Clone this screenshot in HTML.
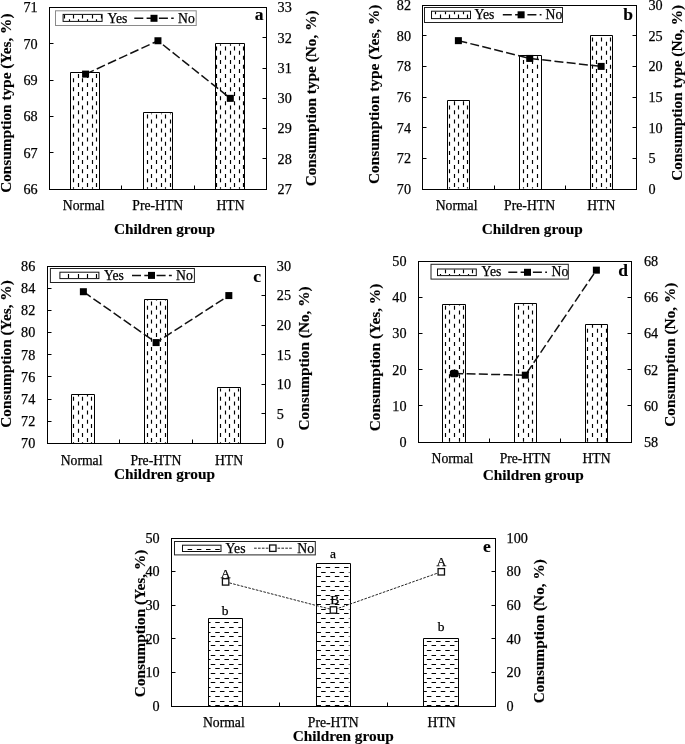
<!DOCTYPE html>
<html><head><meta charset="utf-8"><title>Consumption charts</title>
<style>html,body{margin:0;padding:0;background:#fff;}body{width:685px;height:744px;overflow:hidden;}svg{display:block;will-change:transform;}text{font-family:"Liberation Serif",serif;stroke:#000;stroke-width:0.25px;}text[font-weight=bold]{stroke-width:0.15px;}</style>
</head><body><svg width="685" height="744" viewBox="0 0 685 744" font-family='"Liberation Serif", serif' fill="#000"><defs><pattern id="pv" patternUnits="userSpaceOnUse" width="9.2" height="9.2"><line x1="1.2" y1="0.3" x2="1.2" y2="4.3" stroke="#111" stroke-width="1.1"/><line x1="5.8" y1="4.9" x2="5.8" y2="8.9" stroke="#111" stroke-width="1.1"/></pattern><pattern id="ph" patternUnits="userSpaceOnUse" width="9.2" height="9.2"><line x1="0.2" y1="1.2" x2="4.6" y2="1.2" stroke="#111" stroke-width="1.1"/><line x1="4.8" y1="5.8" x2="9.2" y2="5.8" stroke="#111" stroke-width="1.1"/></pattern></defs><g id="pa"><path d="M73.5 78.15V82.15M73.5 87.25V91.25M73.5 96.35V100.35M73.5 105.45V109.45M73.5 114.55V118.55M73.5 123.65V127.65M73.5 132.75V136.75M73.5 141.85V145.85M73.5 150.95V154.95M73.5 160.05V164.05M73.5 169.15V173.15M73.5 178.25V182.25M73.5 187.35V188.8M82.5 78.15V82.15M82.5 87.25V91.25M82.5 96.35V100.35M82.5 105.45V109.45M82.5 114.55V118.55M82.5 123.65V127.65M82.5 132.75V136.75M82.5 141.85V145.85M82.5 150.95V154.95M82.5 160.05V164.05M82.5 169.15V173.15M82.5 178.25V182.25M82.5 187.35V188.8M92.5 78.15V82.15M92.5 87.25V91.25M92.5 96.35V100.35M92.5 105.45V109.45M92.5 114.55V118.55M92.5 123.65V127.65M92.5 132.75V136.75M92.5 141.85V145.85M92.5 150.95V154.95M92.5 160.05V164.05M92.5 169.15V173.15M92.5 178.25V182.25M92.5 187.35V188.8M78.5 73.9V77.9M78.5 83V87M78.5 92.1V96.1M78.5 101.2V105.2M78.5 110.3V114.3M78.5 119.4V123.4M78.5 128.5V132.5M78.5 137.6V141.6M78.5 146.7V150.7M78.5 155.8V159.8M78.5 164.9V168.9M78.5 174V178M78.5 183.1V187.1M87.5 73.9V77.9M87.5 83V87M87.5 92.1V96.1M87.5 101.2V105.2M87.5 110.3V114.3M87.5 119.4V123.4M87.5 128.5V132.5M87.5 137.6V141.6M87.5 146.7V150.7M87.5 155.8V159.8M87.5 164.9V168.9M87.5 174V178M87.5 183.1V187.1M96.5 73.9V77.9M96.5 83V87M96.5 92.1V96.1M96.5 101.2V105.2M96.5 110.3V114.3M96.5 119.4V123.4M96.5 128.5V132.5M96.5 137.6V141.6M96.5 146.7V150.7M96.5 155.8V159.8M96.5 164.9V168.9M96.5 174V178M96.5 183.1V187.1" stroke="#000" stroke-width="1.15" fill="none"/><path d="M70.5 189.5V72.5H99.5V189.5" fill="none" stroke="#000" stroke-width="1"/><path d="M147.5 114.55V118.55M147.5 123.65V127.65M147.5 132.75V136.75M147.5 141.85V145.85M147.5 150.95V154.95M147.5 160.05V164.05M147.5 169.15V173.15M147.5 178.25V182.25M147.5 187.35V188.8M156.5 114.55V118.55M156.5 123.65V127.65M156.5 132.75V136.75M156.5 141.85V145.85M156.5 150.95V154.95M156.5 160.05V164.05M156.5 169.15V173.15M156.5 178.25V182.25M156.5 187.35V188.8M165.5 114.55V118.55M165.5 123.65V127.65M165.5 132.75V136.75M165.5 141.85V145.85M165.5 150.95V154.95M165.5 160.05V164.05M165.5 169.15V173.15M165.5 178.25V182.25M165.5 187.35V188.8M151.5 113.4V114.3M151.5 119.4V123.4M151.5 128.5V132.5M151.5 137.6V141.6M151.5 146.7V150.7M151.5 155.8V159.8M151.5 164.9V168.9M151.5 174V178M151.5 183.1V187.1M161.5 113.4V114.3M161.5 119.4V123.4M161.5 128.5V132.5M161.5 137.6V141.6M161.5 146.7V150.7M161.5 155.8V159.8M161.5 164.9V168.9M161.5 174V178M161.5 183.1V187.1M170.5 113.4V114.3M170.5 119.4V123.4M170.5 128.5V132.5M170.5 137.6V141.6M170.5 146.7V150.7M170.5 155.8V159.8M170.5 164.9V168.9M170.5 174V178M170.5 183.1V187.1" stroke="#000" stroke-width="1.15" fill="none"/><path d="M143.5 189.5V112.5H172.5V189.5" fill="none" stroke="#000" stroke-width="1"/><path d="M220.5 44.28V45.75M220.5 50.85V54.85M220.5 59.95V63.95M220.5 69.05V73.05M220.5 78.15V82.15M220.5 87.25V91.25M220.5 96.35V100.35M220.5 105.45V109.45M220.5 114.55V118.55M220.5 123.65V127.65M220.5 132.75V136.75M220.5 141.85V145.85M220.5 150.95V154.95M220.5 160.05V164.05M220.5 169.15V173.15M220.5 178.25V182.25M220.5 187.35V188.8M230.5 44.28V45.75M230.5 50.85V54.85M230.5 59.95V63.95M230.5 69.05V73.05M230.5 78.15V82.15M230.5 87.25V91.25M230.5 96.35V100.35M230.5 105.45V109.45M230.5 114.55V118.55M230.5 123.65V127.65M230.5 132.75V136.75M230.5 141.85V145.85M230.5 150.95V154.95M230.5 160.05V164.05M230.5 169.15V173.15M230.5 178.25V182.25M230.5 187.35V188.8M239.5 44.28V45.75M239.5 50.85V54.85M239.5 59.95V63.95M239.5 69.05V73.05M239.5 78.15V82.15M239.5 87.25V91.25M239.5 96.35V100.35M239.5 105.45V109.45M239.5 114.55V118.55M239.5 123.65V127.65M239.5 132.75V136.75M239.5 141.85V145.85M239.5 150.95V154.95M239.5 160.05V164.05M239.5 169.15V173.15M239.5 178.25V182.25M239.5 187.35V188.8M216.5 46.6V50.6M216.5 55.7V59.7M216.5 64.8V68.8M216.5 73.9V77.9M216.5 83V87M216.5 92.1V96.1M216.5 101.2V105.2M216.5 110.3V114.3M216.5 119.4V123.4M216.5 128.5V132.5M216.5 137.6V141.6M216.5 146.7V150.7M216.5 155.8V159.8M216.5 164.9V168.9M216.5 174V178M216.5 183.1V187.1M225.5 46.6V50.6M225.5 55.7V59.7M225.5 64.8V68.8M225.5 73.9V77.9M225.5 83V87M225.5 92.1V96.1M225.5 101.2V105.2M225.5 110.3V114.3M225.5 119.4V123.4M225.5 128.5V132.5M225.5 137.6V141.6M225.5 146.7V150.7M225.5 155.8V159.8M225.5 164.9V168.9M225.5 174V178M225.5 183.1V187.1M234.5 46.6V50.6M234.5 55.7V59.7M234.5 64.8V68.8M234.5 73.9V77.9M234.5 83V87M234.5 92.1V96.1M234.5 101.2V105.2M234.5 110.3V114.3M234.5 119.4V123.4M234.5 128.5V132.5M234.5 137.6V141.6M234.5 146.7V150.7M234.5 155.8V159.8M234.5 164.9V168.9M234.5 174V178M234.5 183.1V187.1M243.5 46.6V50.6M243.5 55.7V59.7M243.5 64.8V68.8M243.5 73.9V77.9M243.5 83V87M243.5 92.1V96.1M243.5 101.2V105.2M243.5 110.3V114.3M243.5 119.4V123.4M243.5 128.5V132.5M243.5 137.6V141.6M243.5 146.7V150.7M243.5 155.8V159.8M243.5 164.9V168.9M243.5 174V178M243.5 183.1V187.1" stroke="#000" stroke-width="1.15" fill="none"/><path d="M215.5 189.5V43.5H244.5V189.5" fill="none" stroke="#000" stroke-width="1"/><rect x="49.5" y="7.5" width="217" height="182" fill="none" stroke="#000" stroke-width="1"/><text x="37.6" y="194.1" text-anchor="end" font-size="14.2">66</text><line x1="49.5" y1="152.5" x2="53.5" y2="152.5" stroke="#000" stroke-width="1"/><text x="37.6" y="157.72" text-anchor="end" font-size="14.2">67</text><line x1="49.5" y1="116.5" x2="53.5" y2="116.5" stroke="#000" stroke-width="1"/><text x="37.6" y="121.34" text-anchor="end" font-size="14.2">68</text><line x1="49.5" y1="80.5" x2="53.5" y2="80.5" stroke="#000" stroke-width="1"/><text x="37.6" y="84.96" text-anchor="end" font-size="14.2">69</text><line x1="49.5" y1="43.5" x2="53.5" y2="43.5" stroke="#000" stroke-width="1"/><text x="37.6" y="48.58" text-anchor="end" font-size="14.2">70</text><text x="37.6" y="12.2" text-anchor="end" font-size="14.2">71</text><text x="277.6" y="194.1" text-anchor="start" font-size="14.2">27</text><line x1="262.5" y1="158.5" x2="266.5" y2="158.5" stroke="#000" stroke-width="1"/><text x="277.6" y="163.78" text-anchor="start" font-size="14.2">28</text><line x1="262.5" y1="128.5" x2="266.5" y2="128.5" stroke="#000" stroke-width="1"/><text x="277.6" y="133.47" text-anchor="start" font-size="14.2">29</text><line x1="262.5" y1="98.5" x2="266.5" y2="98.5" stroke="#000" stroke-width="1"/><text x="277.6" y="103.15" text-anchor="start" font-size="14.2">30</text><line x1="262.5" y1="68.5" x2="266.5" y2="68.5" stroke="#000" stroke-width="1"/><text x="277.6" y="72.83" text-anchor="start" font-size="14.2">31</text><line x1="262.5" y1="37.5" x2="266.5" y2="37.5" stroke="#000" stroke-width="1"/><text x="277.6" y="42.52" text-anchor="start" font-size="14.2">32</text><text x="277.6" y="12.2" text-anchor="start" font-size="14.2">33</text><line x1="121.5" y1="185.5" x2="121.5" y2="189.5" stroke="#000" stroke-width="1"/><line x1="194.5" y1="185.5" x2="194.5" y2="189.5" stroke="#000" stroke-width="1"/><text x="83.78" y="209.9" text-anchor="middle" font-size="13.7">Normal</text><text x="157.75" y="209.9" text-anchor="middle" font-size="13.7">Pre-HTN</text><text x="230.52" y="209.9" text-anchor="middle" font-size="13.7">HTN</text><polyline points="85.58,74.1 157.95,40.75 230.32,98.35" fill="none" stroke="#111" stroke-width="1.5" stroke-dasharray="9 3.3"/><rect x="82.08" y="70.6" width="7" height="7" fill="#000"/><rect x="154.45" y="37.25" width="7" height="7" fill="#000"/><rect x="226.82" y="94.85" width="7" height="7" fill="#000"/><text x="164.5" y="233.9" text-anchor="middle" font-size="15.3" font-weight="bold">Children group</text><text transform="translate(10.8,103.2) rotate(-90)" text-anchor="middle" font-size="15.3" font-weight="bold">Consumption type (Yes, %)</text><text transform="translate(316.2,98.4) rotate(-90)" text-anchor="middle" font-size="15.3" font-weight="bold">Consumption type (No, %)</text><text x="259.1" y="19.9" text-anchor="middle" font-size="17.5" font-weight="bold">a</text><rect x="55.5" y="10.8" width="140.7" height="14.7" fill="#fff" stroke="#8a8a8a" stroke-width="1"/><path d="M64.5 14.9V18.45M73.5 14.9V18.45M82.5 14.9V18.45M92.5 14.9V18.45M101.5 14.9V18.45M69.5 19.3V20.9M78.5 19.3V20.9M87.5 19.3V20.9M96.5 19.3V20.9" stroke="#000" stroke-width="1.15" fill="none"/><rect x="63.1" y="14.4" width="39" height="7" fill="none" stroke="#111" stroke-width="1"/><text x="107.4" y="22.8" font-size="13.7">Yes</text><text x="178.1" y="22.8" font-size="13.7">No</text><line x1="134.3" y1="18.3" x2="173.7" y2="18.3" stroke="#111" stroke-width="1.5" stroke-dasharray="9 3.3"/><rect x="150.5" y="14.8" width="7" height="7" fill="#000"/></g><g id="pb"><path d="M449.5 105.45V109.45M449.5 114.55V118.55M449.5 123.65V127.65M449.5 132.75V136.75M449.5 141.85V145.85M449.5 150.95V154.95M449.5 160.05V164.05M449.5 169.15V173.15M449.5 178.25V182.25M449.5 187.35V188.5M458.5 105.45V109.45M458.5 114.55V118.55M458.5 123.65V127.65M458.5 132.75V136.75M458.5 141.85V145.85M458.5 150.95V154.95M458.5 160.05V164.05M458.5 169.15V173.15M458.5 178.25V182.25M458.5 187.35V188.5M467.5 105.45V109.45M467.5 114.55V118.55M467.5 123.65V127.65M467.5 132.75V136.75M467.5 141.85V145.85M467.5 150.95V154.95M467.5 160.05V164.05M467.5 169.15V173.15M467.5 178.25V182.25M467.5 187.35V188.5M454.5 101.2V105.2M454.5 110.3V114.3M454.5 119.4V123.4M454.5 128.5V132.5M454.5 137.6V141.6M454.5 146.7V150.7M454.5 155.8V159.8M454.5 164.9V168.9M454.5 174V178M454.5 183.1V187.1M463.5 101.2V105.2M463.5 110.3V114.3M463.5 119.4V123.4M463.5 128.5V132.5M463.5 137.6V141.6M463.5 146.7V150.7M463.5 155.8V159.8M463.5 164.9V168.9M463.5 174V178M463.5 183.1V187.1" stroke="#000" stroke-width="1.15" fill="none"/><path d="M447.5 189.5V100.5H469.5V189.5" fill="none" stroke="#000" stroke-width="1"/><path d="M523.5 59.95V63.95M523.5 69.05V73.05M523.5 78.15V82.15M523.5 87.25V91.25M523.5 96.35V100.35M523.5 105.45V109.45M523.5 114.55V118.55M523.5 123.65V127.65M523.5 132.75V136.75M523.5 141.85V145.85M523.5 150.95V154.95M523.5 160.05V164.05M523.5 169.15V173.15M523.5 178.25V182.25M523.5 187.35V188.5M532.5 59.95V63.95M532.5 69.05V73.05M532.5 78.15V82.15M532.5 87.25V91.25M532.5 96.35V100.35M532.5 105.45V109.45M532.5 114.55V118.55M532.5 123.65V127.65M532.5 132.75V136.75M532.5 141.85V145.85M532.5 150.95V154.95M532.5 160.05V164.05M532.5 169.15V173.15M532.5 178.25V182.25M532.5 187.35V188.5M527.5 56.17V59.7M527.5 64.8V68.8M527.5 73.9V77.9M527.5 83V87M527.5 92.1V96.1M527.5 101.2V105.2M527.5 110.3V114.3M527.5 119.4V123.4M527.5 128.5V132.5M527.5 137.6V141.6M527.5 146.7V150.7M527.5 155.8V159.8M527.5 164.9V168.9M527.5 174V178M527.5 183.1V187.1M537.5 56.17V59.7M537.5 64.8V68.8M537.5 73.9V77.9M537.5 83V87M537.5 92.1V96.1M537.5 101.2V105.2M537.5 110.3V114.3M537.5 119.4V123.4M537.5 128.5V132.5M537.5 137.6V141.6M537.5 146.7V150.7M537.5 155.8V159.8M537.5 164.9V168.9M537.5 174V178M537.5 183.1V187.1" stroke="#000" stroke-width="1.15" fill="none"/><path d="M519.5 189.5V55.5H541.5V189.5" fill="none" stroke="#000" stroke-width="1"/><path d="M596.5 41.75V45.75M596.5 50.85V54.85M596.5 59.95V63.95M596.5 69.05V73.05M596.5 78.15V82.15M596.5 87.25V91.25M596.5 96.35V100.35M596.5 105.45V109.45M596.5 114.55V118.55M596.5 123.65V127.65M596.5 132.75V136.75M596.5 141.85V145.85M596.5 150.95V154.95M596.5 160.05V164.05M596.5 169.15V173.15M596.5 178.25V182.25M596.5 187.35V188.5M606.5 41.75V45.75M606.5 50.85V54.85M606.5 59.95V63.95M606.5 69.05V73.05M606.5 78.15V82.15M606.5 87.25V91.25M606.5 96.35V100.35M606.5 105.45V109.45M606.5 114.55V118.55M606.5 123.65V127.65M606.5 132.75V136.75M606.5 141.85V145.85M606.5 150.95V154.95M606.5 160.05V164.05M606.5 169.15V173.15M606.5 178.25V182.25M606.5 187.35V188.5M592.5 37.5V41.5M592.5 46.6V50.6M592.5 55.7V59.7M592.5 64.8V68.8M592.5 73.9V77.9M592.5 83V87M592.5 92.1V96.1M592.5 101.2V105.2M592.5 110.3V114.3M592.5 119.4V123.4M592.5 128.5V132.5M592.5 137.6V141.6M592.5 146.7V150.7M592.5 155.8V159.8M592.5 164.9V168.9M592.5 174V178M592.5 183.1V187.1M601.5 37.5V41.5M601.5 46.6V50.6M601.5 55.7V59.7M601.5 64.8V68.8M601.5 73.9V77.9M601.5 83V87M601.5 92.1V96.1M601.5 101.2V105.2M601.5 110.3V114.3M601.5 119.4V123.4M601.5 128.5V132.5M601.5 137.6V141.6M601.5 146.7V150.7M601.5 155.8V159.8M601.5 164.9V168.9M601.5 174V178M601.5 183.1V187.1M610.5 37.5V41.5M610.5 46.6V50.6M610.5 55.7V59.7M610.5 64.8V68.8M610.5 73.9V77.9M610.5 83V87M610.5 92.1V96.1M610.5 101.2V105.2M610.5 110.3V114.3M610.5 119.4V123.4M610.5 128.5V132.5M610.5 137.6V141.6M610.5 146.7V150.7M610.5 155.8V159.8M610.5 164.9V168.9M610.5 174V178M610.5 183.1V187.1" stroke="#000" stroke-width="1.15" fill="none"/><path d="M590.5 189.5V35.5H612.5V189.5" fill="none" stroke="#000" stroke-width="1"/><rect x="422.5" y="5.5" width="214" height="184" fill="none" stroke="#000" stroke-width="1"/><text x="411" y="193.8" text-anchor="end" font-size="14.2">70</text><line x1="422.5" y1="158.5" x2="426.5" y2="158.5" stroke="#000" stroke-width="1"/><text x="411" y="163.15" text-anchor="end" font-size="14.2">72</text><line x1="422.5" y1="127.5" x2="426.5" y2="127.5" stroke="#000" stroke-width="1"/><text x="411" y="132.5" text-anchor="end" font-size="14.2">74</text><line x1="422.5" y1="97.5" x2="426.5" y2="97.5" stroke="#000" stroke-width="1"/><text x="411" y="101.85" text-anchor="end" font-size="14.2">76</text><line x1="422.5" y1="66.5" x2="426.5" y2="66.5" stroke="#000" stroke-width="1"/><text x="411" y="71.2" text-anchor="end" font-size="14.2">78</text><line x1="422.5" y1="35.5" x2="426.5" y2="35.5" stroke="#000" stroke-width="1"/><text x="411" y="40.55" text-anchor="end" font-size="14.2">80</text><text x="411" y="9.9" text-anchor="end" font-size="14.2">82</text><text x="648.4" y="193.8" text-anchor="start" font-size="14.2">0</text><line x1="632.5" y1="158.5" x2="636.5" y2="158.5" stroke="#000" stroke-width="1"/><text x="648.4" y="163.15" text-anchor="start" font-size="14.2">5</text><line x1="632.5" y1="127.5" x2="636.5" y2="127.5" stroke="#000" stroke-width="1"/><text x="648.4" y="132.5" text-anchor="start" font-size="14.2">10</text><line x1="632.5" y1="97.5" x2="636.5" y2="97.5" stroke="#000" stroke-width="1"/><text x="648.4" y="101.85" text-anchor="start" font-size="14.2">15</text><line x1="632.5" y1="66.5" x2="636.5" y2="66.5" stroke="#000" stroke-width="1"/><text x="648.4" y="71.2" text-anchor="start" font-size="14.2">20</text><line x1="632.5" y1="35.5" x2="636.5" y2="35.5" stroke="#000" stroke-width="1"/><text x="648.4" y="40.55" text-anchor="start" font-size="14.2">25</text><text x="648.4" y="9.9" text-anchor="start" font-size="14.2">30</text><line x1="494.5" y1="185.5" x2="494.5" y2="189.5" stroke="#000" stroke-width="1"/><line x1="565.5" y1="185.5" x2="565.5" y2="189.5" stroke="#000" stroke-width="1"/><text x="456.58" y="210" text-anchor="middle" font-size="13.7">Normal</text><text x="529.55" y="210" text-anchor="middle" font-size="13.7">Pre-HTN</text><text x="601.32" y="210" text-anchor="middle" font-size="13.7">HTN</text><polyline points="458.38,40.65 529.75,58.43 601.12,66.4" fill="none" stroke="#111" stroke-width="1.5" stroke-dasharray="9 3.3"/><rect x="454.88" y="37.15" width="7" height="7" fill="#000"/><rect x="526.25" y="54.93" width="7" height="7" fill="#000"/><rect x="597.62" y="62.9" width="7" height="7" fill="#000"/><text x="532.2" y="233.7" text-anchor="middle" font-size="15.3" font-weight="bold">Children group</text><text transform="translate(378.6,94.3) rotate(-90)" text-anchor="middle" font-size="15.3" font-weight="bold">Consumption type (Yes, %)</text><text transform="translate(682,92.8) rotate(-90)" text-anchor="middle" font-size="15.3" font-weight="bold">Consumption type (No, %)</text><text x="628.2" y="19.7" text-anchor="middle" font-size="17.5" font-weight="bold">b</text><rect x="424.5" y="7.5" width="138" height="15" fill="#fff" stroke="#222" stroke-width="1"/><path d="M440.5 14.45V18.1M449.5 14.45V18.1M458.5 14.45V18.1M467.5 14.45V18.1M435.5 11.7V14.2M445.5 11.7V14.2M454.5 11.7V14.2M463.5 11.7V14.2" stroke="#000" stroke-width="1.15" fill="none"/><rect x="431.5" y="11.2" width="39" height="7.4" fill="none" stroke="#111" stroke-width="1"/><text x="474.4" y="19.2" font-size="13.7">Yes</text><text x="545.6" y="19.2" font-size="13.7">No</text><line x1="502.8" y1="14.8" x2="541.5" y2="14.8" stroke="#111" stroke-width="1.5" stroke-dasharray="9 3.3"/><rect x="517.6" y="11.3" width="7" height="7" fill="#000"/></g><g id="pc"><path d="M73.5 396.65V400.65M73.5 405.75V409.75M73.5 414.85V418.85M73.5 423.95V427.95M73.5 433.05V437.05M73.5 442.15V442.9M82.5 396.65V400.65M82.5 405.75V409.75M82.5 414.85V418.85M82.5 423.95V427.95M82.5 433.05V437.05M82.5 442.15V442.9M91.5 396.65V400.65M91.5 405.75V409.75M91.5 414.85V418.85M91.5 423.95V427.95M91.5 433.05V437.05M91.5 442.15V442.9M78.5 395.11V396.4M78.5 401.5V405.5M78.5 410.6V414.6M78.5 419.7V423.7M78.5 428.8V432.8M78.5 437.9V441.9M87.5 395.11V396.4M87.5 401.5V405.5M87.5 410.6V414.6M87.5 419.7V423.7M87.5 428.8V432.8M87.5 437.9V441.9" stroke="#000" stroke-width="1.15" fill="none"/><path d="M71.5 443.5V394.5H94.5V443.5" fill="none" stroke="#000" stroke-width="1"/><path d="M147.5 299.76V300.55M147.5 305.65V309.65M147.5 314.75V318.75M147.5 323.85V327.85M147.5 332.95V336.95M147.5 342.05V346.05M147.5 351.15V355.15M147.5 360.25V364.25M147.5 369.35V373.35M147.5 378.45V382.45M147.5 387.55V391.55M147.5 396.65V400.65M147.5 405.75V409.75M147.5 414.85V418.85M147.5 423.95V427.95M147.5 433.05V437.05M147.5 442.15V442.9M156.5 299.76V300.55M156.5 305.65V309.65M156.5 314.75V318.75M156.5 323.85V327.85M156.5 332.95V336.95M156.5 342.05V346.05M156.5 351.15V355.15M156.5 360.25V364.25M156.5 369.35V373.35M156.5 378.45V382.45M156.5 387.55V391.55M156.5 396.65V400.65M156.5 405.75V409.75M156.5 414.85V418.85M156.5 423.95V427.95M156.5 433.05V437.05M156.5 442.15V442.9M165.5 299.76V300.55M165.5 305.65V309.65M165.5 314.75V318.75M165.5 323.85V327.85M165.5 332.95V336.95M165.5 342.05V346.05M165.5 351.15V355.15M165.5 360.25V364.25M165.5 369.35V373.35M165.5 378.45V382.45M165.5 387.55V391.55M165.5 396.65V400.65M165.5 405.75V409.75M165.5 414.85V418.85M165.5 423.95V427.95M165.5 433.05V437.05M165.5 442.15V442.9M151.5 301.4V305.4M151.5 310.5V314.5M151.5 319.6V323.6M151.5 328.7V332.7M151.5 337.8V341.8M151.5 346.9V350.9M151.5 356V360M151.5 365.1V369.1M151.5 374.2V378.2M151.5 383.3V387.3M151.5 392.4V396.4M151.5 401.5V405.5M151.5 410.6V414.6M151.5 419.7V423.7M151.5 428.8V432.8M151.5 437.9V441.9M160.5 301.4V305.4M160.5 310.5V314.5M160.5 319.6V323.6M160.5 328.7V332.7M160.5 337.8V341.8M160.5 346.9V350.9M160.5 356V360M160.5 365.1V369.1M160.5 374.2V378.2M160.5 383.3V387.3M160.5 392.4V396.4M160.5 401.5V405.5M160.5 410.6V414.6M160.5 419.7V423.7M160.5 428.8V432.8M160.5 437.9V441.9" stroke="#000" stroke-width="1.15" fill="none"/><path d="M144.5 443.5V299.5H167.5V443.5" fill="none" stroke="#000" stroke-width="1"/><path d="M220.5 388.46V391.55M220.5 396.65V400.65M220.5 405.75V409.75M220.5 414.85V418.85M220.5 423.95V427.95M220.5 433.05V437.05M220.5 442.15V442.9M229.5 388.46V391.55M229.5 396.65V400.65M229.5 405.75V409.75M229.5 414.85V418.85M229.5 423.95V427.95M229.5 433.05V437.05M229.5 442.15V442.9M238.5 388.46V391.55M238.5 396.65V400.65M238.5 405.75V409.75M238.5 414.85V418.85M238.5 423.95V427.95M238.5 433.05V437.05M238.5 442.15V442.9M225.5 392.4V396.4M225.5 401.5V405.5M225.5 410.6V414.6M225.5 419.7V423.7M225.5 428.8V432.8M225.5 437.9V441.9M234.5 392.4V396.4M234.5 401.5V405.5M234.5 410.6V414.6M234.5 419.7V423.7M234.5 428.8V432.8M234.5 437.9V441.9" stroke="#000" stroke-width="1.15" fill="none"/><path d="M217.5 443.5V387.5H240.5V443.5" fill="none" stroke="#000" stroke-width="1"/><rect x="47.5" y="266.5" width="218" height="177" fill="none" stroke="#000" stroke-width="1"/><text x="35.3" y="448.2" text-anchor="end" font-size="14.2">70</text><line x1="47.5" y1="421.5" x2="51.5" y2="421.5" stroke="#000" stroke-width="1"/><text x="35.3" y="426.02" text-anchor="end" font-size="14.2">72</text><line x1="47.5" y1="399.5" x2="51.5" y2="399.5" stroke="#000" stroke-width="1"/><text x="35.3" y="403.85" text-anchor="end" font-size="14.2">74</text><line x1="47.5" y1="376.5" x2="51.5" y2="376.5" stroke="#000" stroke-width="1"/><text x="35.3" y="381.68" text-anchor="end" font-size="14.2">76</text><line x1="47.5" y1="354.5" x2="51.5" y2="354.5" stroke="#000" stroke-width="1"/><text x="35.3" y="359.5" text-anchor="end" font-size="14.2">78</text><line x1="47.5" y1="332.5" x2="51.5" y2="332.5" stroke="#000" stroke-width="1"/><text x="35.3" y="337.32" text-anchor="end" font-size="14.2">80</text><line x1="47.5" y1="310.5" x2="51.5" y2="310.5" stroke="#000" stroke-width="1"/><text x="35.3" y="315.15" text-anchor="end" font-size="14.2">82</text><line x1="47.5" y1="288.5" x2="51.5" y2="288.5" stroke="#000" stroke-width="1"/><text x="35.3" y="292.98" text-anchor="end" font-size="14.2">84</text><text x="35.3" y="270.8" text-anchor="end" font-size="14.2">86</text><text x="276.8" y="448.2" text-anchor="start" font-size="14.2">0</text><line x1="261.5" y1="413.5" x2="265.5" y2="413.5" stroke="#000" stroke-width="1"/><text x="276.8" y="418.63" text-anchor="start" font-size="14.2">5</text><line x1="261.5" y1="384.5" x2="265.5" y2="384.5" stroke="#000" stroke-width="1"/><text x="276.8" y="389.07" text-anchor="start" font-size="14.2">10</text><line x1="261.5" y1="354.5" x2="265.5" y2="354.5" stroke="#000" stroke-width="1"/><text x="276.8" y="359.5" text-anchor="start" font-size="14.2">15</text><line x1="261.5" y1="325.5" x2="265.5" y2="325.5" stroke="#000" stroke-width="1"/><text x="276.8" y="329.93" text-anchor="start" font-size="14.2">20</text><line x1="261.5" y1="295.5" x2="265.5" y2="295.5" stroke="#000" stroke-width="1"/><text x="276.8" y="300.37" text-anchor="start" font-size="14.2">25</text><text x="276.8" y="270.8" text-anchor="start" font-size="14.2">30</text><line x1="119.5" y1="439.5" x2="119.5" y2="443.5" stroke="#000" stroke-width="1"/><line x1="192.5" y1="439.5" x2="192.5" y2="443.5" stroke="#000" stroke-width="1"/><text x="81.57" y="464.7" text-anchor="middle" font-size="13.7">Normal</text><text x="155.9" y="464.7" text-anchor="middle" font-size="13.7">Pre-HTN</text><text x="229.03" y="464.7" text-anchor="middle" font-size="13.7">HTN</text><polyline points="83.37,291.72 156.1,342.58 228.83,295.57" fill="none" stroke="#111" stroke-width="1.5" stroke-dasharray="9 3.3"/><rect x="79.87" y="288.22" width="7" height="7" fill="#000"/><rect x="152.6" y="339.08" width="7" height="7" fill="#000"/><rect x="225.33" y="292.07" width="7" height="7" fill="#000"/><text x="164.5" y="479.3" text-anchor="middle" font-size="15.3" font-weight="bold">Children group</text><text transform="translate(11,354) rotate(-90)" text-anchor="middle" font-size="15.3" font-weight="bold">Consumption (Yes, %)</text><text transform="translate(309.3,358.4) rotate(-90)" text-anchor="middle" font-size="15.3" font-weight="bold">Consumption (No, %)</text><text x="257.2" y="282.1" text-anchor="middle" font-size="17.5" font-weight="bold">c</text><rect x="50.4" y="268.5" width="144" height="14" fill="#fff" stroke="#222" stroke-width="1"/><path d="M68.5 274.1V278.1M78.5 274.1V278.1M87.5 274.1V278.1M96.5 274.1V278.1" stroke="#000" stroke-width="1.15" fill="none"/><rect x="59.9" y="272.2" width="39" height="6.4" fill="none" stroke="#111" stroke-width="1"/><text x="104" y="279.7" font-size="13.7">Yes</text><text x="176" y="279.7" font-size="13.7">No</text><line x1="132" y1="275.4" x2="171.8" y2="275.4" stroke="#111" stroke-width="1.5" stroke-dasharray="9 3.3"/><rect x="148" y="271.9" width="7" height="7" fill="#000"/></g><g id="pd"><path d="M445.5 305.65V309.65M445.5 314.75V318.75M445.5 323.85V327.85M445.5 332.95V336.95M445.5 342.05V346.05M445.5 351.15V355.15M445.5 360.25V364.25M445.5 369.35V373.35M445.5 378.45V382.45M445.5 387.55V391.55M445.5 396.65V400.65M445.5 405.75V409.75M445.5 414.85V418.85M445.5 423.95V427.95M445.5 433.05V437.05M454.5 305.65V309.65M454.5 314.75V318.75M454.5 323.85V327.85M454.5 332.95V336.95M454.5 342.05V346.05M454.5 351.15V355.15M454.5 360.25V364.25M454.5 369.35V373.35M454.5 378.45V382.45M454.5 387.55V391.55M454.5 396.65V400.65M454.5 405.75V409.75M454.5 414.85V418.85M454.5 423.95V427.95M454.5 433.05V437.05M463.5 305.65V309.65M463.5 314.75V318.75M463.5 323.85V327.85M463.5 332.95V336.95M463.5 342.05V346.05M463.5 351.15V355.15M463.5 360.25V364.25M463.5 369.35V373.35M463.5 378.45V382.45M463.5 387.55V391.55M463.5 396.65V400.65M463.5 405.75V409.75M463.5 414.85V418.85M463.5 423.95V427.95M463.5 433.05V437.05M449.5 304.7V305.4M449.5 310.5V314.5M449.5 319.6V323.6M449.5 328.7V332.7M449.5 337.8V341.8M449.5 346.9V350.9M449.5 356V360M449.5 365.1V369.1M449.5 374.2V378.2M449.5 383.3V387.3M449.5 392.4V396.4M449.5 401.5V405.5M449.5 410.6V414.6M449.5 419.7V423.7M449.5 428.8V432.8M449.5 437.9V441.7M459.5 304.7V305.4M459.5 310.5V314.5M459.5 319.6V323.6M459.5 328.7V332.7M459.5 337.8V341.8M459.5 346.9V350.9M459.5 356V360M459.5 365.1V369.1M459.5 374.2V378.2M459.5 383.3V387.3M459.5 392.4V396.4M459.5 401.5V405.5M459.5 410.6V414.6M459.5 419.7V423.7M459.5 428.8V432.8M459.5 437.9V441.7" stroke="#000" stroke-width="1.15" fill="none"/><path d="M442.5 442.5V304.5H465.5V442.5" fill="none" stroke="#000" stroke-width="1"/><path d="M518.5 305.65V309.65M518.5 314.75V318.75M518.5 323.85V327.85M518.5 332.95V336.95M518.5 342.05V346.05M518.5 351.15V355.15M518.5 360.25V364.25M518.5 369.35V373.35M518.5 378.45V382.45M518.5 387.55V391.55M518.5 396.65V400.65M518.5 405.75V409.75M518.5 414.85V418.85M518.5 423.95V427.95M518.5 433.05V437.05M528.5 305.65V309.65M528.5 314.75V318.75M528.5 323.85V327.85M528.5 332.95V336.95M528.5 342.05V346.05M528.5 351.15V355.15M528.5 360.25V364.25M528.5 369.35V373.35M528.5 378.45V382.45M528.5 387.55V391.55M528.5 396.65V400.65M528.5 405.75V409.75M528.5 414.85V418.85M528.5 423.95V427.95M528.5 433.05V437.05M523.5 304.34V305.4M523.5 310.5V314.5M523.5 319.6V323.6M523.5 328.7V332.7M523.5 337.8V341.8M523.5 346.9V350.9M523.5 356V360M523.5 365.1V369.1M523.5 374.2V378.2M523.5 383.3V387.3M523.5 392.4V396.4M523.5 401.5V405.5M523.5 410.6V414.6M523.5 419.7V423.7M523.5 428.8V432.8M523.5 437.9V441.7M532.5 304.34V305.4M532.5 310.5V314.5M532.5 319.6V323.6M532.5 328.7V332.7M532.5 337.8V341.8M532.5 346.9V350.9M532.5 356V360M532.5 365.1V369.1M532.5 374.2V378.2M532.5 383.3V387.3M532.5 392.4V396.4M532.5 401.5V405.5M532.5 410.6V414.6M532.5 419.7V423.7M532.5 428.8V432.8M532.5 437.9V441.7" stroke="#000" stroke-width="1.15" fill="none"/><path d="M514.5 442.5V303.5H536.5V442.5" fill="none" stroke="#000" stroke-width="1"/><path d="M592.5 324.99V327.85M592.5 332.95V336.95M592.5 342.05V346.05M592.5 351.15V355.15M592.5 360.25V364.25M592.5 369.35V373.35M592.5 378.45V382.45M592.5 387.55V391.55M592.5 396.65V400.65M592.5 405.75V409.75M592.5 414.85V418.85M592.5 423.95V427.95M592.5 433.05V437.05M601.5 324.99V327.85M601.5 332.95V336.95M601.5 342.05V346.05M601.5 351.15V355.15M601.5 360.25V364.25M601.5 369.35V373.35M601.5 378.45V382.45M601.5 387.55V391.55M601.5 396.65V400.65M601.5 405.75V409.75M601.5 414.85V418.85M601.5 423.95V427.95M601.5 433.05V437.05M587.5 328.7V332.7M587.5 337.8V341.8M587.5 346.9V350.9M587.5 356V360M587.5 365.1V369.1M587.5 374.2V378.2M587.5 383.3V387.3M587.5 392.4V396.4M587.5 401.5V405.5M587.5 410.6V414.6M587.5 419.7V423.7M587.5 428.8V432.8M587.5 437.9V441.7M597.5 328.7V332.7M597.5 337.8V341.8M597.5 346.9V350.9M597.5 356V360M597.5 365.1V369.1M597.5 374.2V378.2M597.5 383.3V387.3M597.5 392.4V396.4M597.5 401.5V405.5M597.5 410.6V414.6M597.5 419.7V423.7M597.5 428.8V432.8M597.5 437.9V441.7M606.5 328.7V332.7M606.5 337.8V341.8M606.5 346.9V350.9M606.5 356V360M606.5 365.1V369.1M606.5 374.2V378.2M606.5 383.3V387.3M606.5 392.4V396.4M606.5 401.5V405.5M606.5 410.6V414.6M606.5 419.7V423.7M606.5 428.8V432.8M606.5 437.9V441.7" stroke="#000" stroke-width="1.15" fill="none"/><path d="M585.5 442.5V324.5H607.5V442.5" fill="none" stroke="#000" stroke-width="1"/><rect x="418.5" y="261.5" width="213" height="181" fill="none" stroke="#000" stroke-width="1"/><text x="406.5" y="447" text-anchor="end" font-size="14.2">0</text><line x1="418.5" y1="405.5" x2="422.5" y2="405.5" stroke="#000" stroke-width="1"/><text x="406.5" y="410.78" text-anchor="end" font-size="14.2">10</text><line x1="418.5" y1="369.5" x2="422.5" y2="369.5" stroke="#000" stroke-width="1"/><text x="406.5" y="374.56" text-anchor="end" font-size="14.2">20</text><line x1="418.5" y1="333.5" x2="422.5" y2="333.5" stroke="#000" stroke-width="1"/><text x="406.5" y="338.34" text-anchor="end" font-size="14.2">30</text><line x1="418.5" y1="297.5" x2="422.5" y2="297.5" stroke="#000" stroke-width="1"/><text x="406.5" y="302.12" text-anchor="end" font-size="14.2">40</text><text x="406.5" y="265.9" text-anchor="end" font-size="14.2">50</text><text x="644" y="447" text-anchor="start" font-size="14.2">58</text><line x1="627.5" y1="405.5" x2="631.5" y2="405.5" stroke="#000" stroke-width="1"/><text x="644" y="410.78" text-anchor="start" font-size="14.2">60</text><line x1="627.5" y1="369.5" x2="631.5" y2="369.5" stroke="#000" stroke-width="1"/><text x="644" y="374.56" text-anchor="start" font-size="14.2">62</text><line x1="627.5" y1="333.5" x2="631.5" y2="333.5" stroke="#000" stroke-width="1"/><text x="644" y="338.34" text-anchor="start" font-size="14.2">64</text><line x1="627.5" y1="297.5" x2="631.5" y2="297.5" stroke="#000" stroke-width="1"/><text x="644" y="302.12" text-anchor="start" font-size="14.2">66</text><text x="644" y="265.9" text-anchor="start" font-size="14.2">68</text><line x1="489.5" y1="438.5" x2="489.5" y2="442.5" stroke="#000" stroke-width="1"/><line x1="560.5" y1="438.5" x2="560.5" y2="442.5" stroke="#000" stroke-width="1"/><text x="452.43" y="463.2" text-anchor="middle" font-size="13.7">Normal</text><text x="525.1" y="463.2" text-anchor="middle" font-size="13.7">Pre-HTN</text><text x="596.57" y="463.2" text-anchor="middle" font-size="13.7">HTN</text><polyline points="454.23,373.56 525.3,375.19 596.37,270.16" fill="none" stroke="#111" stroke-width="1.5" stroke-dasharray="9 3.3"/><rect x="449.83" y="369.86" width="8.8" height="7.4" rx="2.6" fill="#000"/><rect x="521.8" y="371.69" width="7" height="7" fill="#000"/><rect x="592.87" y="266.66" width="7" height="7" fill="#000"/><text x="533.2" y="480.3" text-anchor="middle" font-size="15.3" font-weight="bold">Children group</text><text transform="translate(380,357.5) rotate(-90)" text-anchor="middle" font-size="15.3" font-weight="bold">Consumption (Yes, %)</text><text transform="translate(674.7,354.7) rotate(-90)" text-anchor="middle" font-size="15.3" font-weight="bold">Consumption (No, %)</text><text x="623" y="276.3" text-anchor="middle" font-size="17.5" font-weight="bold">d</text><rect x="431" y="264.3" width="137.3" height="14.8" fill="#fff" stroke="#222" stroke-width="1"/><path d="M445.5 269.5V273.25M454.5 269.5V273.25M463.5 269.5V273.25M472.5 269.5V273.25M440.5 274.1V275.1M449.5 274.1V275.1M459.5 274.1V275.1M468.5 274.1V275.1" stroke="#000" stroke-width="1.15" fill="none"/><rect x="437.5" y="269" width="38.8" height="6.6" fill="none" stroke="#111" stroke-width="1"/><text x="481.4" y="276.3" font-size="13.7">Yes</text><text x="551.5" y="276.3" font-size="13.7">No</text><line x1="508.3" y1="272.3" x2="547" y2="272.3" stroke="#111" stroke-width="1.5" stroke-dasharray="9 3.3"/><rect x="524" y="268.8" width="7" height="7" fill="#000"/></g><g id="pe"><path d="M208.9 622.5H210.55M215.25 622.5H219.75M224.45 622.5H228.95M233.65 622.5H238.15M208.9 632.5H210.55M215.25 632.5H219.75M224.45 632.5H228.95M233.65 632.5H238.15M208.9 641.5H210.55M215.25 641.5H219.75M224.45 641.5H228.95M233.65 641.5H238.15M208.9 650.5H210.55M215.25 650.5H219.75M224.45 650.5H228.95M233.65 650.5H238.15M208.9 659.5H210.55M215.25 659.5H219.75M224.45 659.5H228.95M233.65 659.5H238.15M208.9 668.5H210.55M215.25 668.5H219.75M224.45 668.5H228.95M233.65 668.5H238.15M208.9 678.5H210.55M215.25 678.5H219.75M224.45 678.5H228.95M233.65 678.5H238.15M208.9 687.5H210.55M215.25 687.5H219.75M224.45 687.5H228.95M233.65 687.5H238.15M208.9 696.5H210.55M215.25 696.5H219.75M224.45 696.5H228.95M233.65 696.5H238.15M208.9 705.5H210.55M215.25 705.5H219.75M224.45 705.5H228.95M233.65 705.5H238.15M210.75 627.5H215.25M219.95 627.5H224.45M229.15 627.5H233.65M238.35 627.5H241.6M210.75 636.5H215.25M219.95 636.5H224.45M229.15 636.5H233.65M238.35 636.5H241.6M210.75 645.5H215.25M219.95 645.5H224.45M229.15 645.5H233.65M238.35 645.5H241.6M210.75 655.5H215.25M219.95 655.5H224.45M229.15 655.5H233.65M238.35 655.5H241.6M210.75 664.5H215.25M219.95 664.5H224.45M229.15 664.5H233.65M238.35 664.5H241.6M210.75 673.5H215.25M219.95 673.5H224.45M229.15 673.5H233.65M238.35 673.5H241.6M210.75 682.5H215.25M219.95 682.5H224.45M229.15 682.5H233.65M238.35 682.5H241.6M210.75 691.5H215.25M219.95 691.5H224.45M229.15 691.5H233.65M238.35 691.5H241.6M210.75 701.5H215.25M219.95 701.5H224.45M229.15 701.5H233.65M238.35 701.5H241.6" stroke="#000" stroke-width="1.15" fill="none"/><path d="M208.5 706.5V618.5H242.5V706.5" fill="none" stroke="#000" stroke-width="1"/><path d="M316.6 567.5H320.95M325.65 567.5H330.15M334.85 567.5H339.35M344.05 567.5H348.55M316.6 576.5H320.95M325.65 576.5H330.15M334.85 576.5H339.35M344.05 576.5H348.55M316.6 586.5H320.95M325.65 586.5H330.15M334.85 586.5H339.35M344.05 586.5H348.55M316.6 595.5H320.95M325.65 595.5H330.15M334.85 595.5H339.35M344.05 595.5H348.55M316.6 604.5H320.95M325.65 604.5H330.15M334.85 604.5H339.35M344.05 604.5H348.55M316.6 613.5H320.95M325.65 613.5H330.15M334.85 613.5H339.35M344.05 613.5H348.55M316.6 622.5H320.95M325.65 622.5H330.15M334.85 622.5H339.35M344.05 622.5H348.55M316.6 632.5H320.95M325.65 632.5H330.15M334.85 632.5H339.35M344.05 632.5H348.55M316.6 641.5H320.95M325.65 641.5H330.15M334.85 641.5H339.35M344.05 641.5H348.55M316.6 650.5H320.95M325.65 650.5H330.15M334.85 650.5H339.35M344.05 650.5H348.55M316.6 659.5H320.95M325.65 659.5H330.15M334.85 659.5H339.35M344.05 659.5H348.55M316.6 668.5H320.95M325.65 668.5H330.15M334.85 668.5H339.35M344.05 668.5H348.55M316.6 678.5H320.95M325.65 678.5H330.15M334.85 678.5H339.35M344.05 678.5H348.55M316.6 687.5H320.95M325.65 687.5H330.15M334.85 687.5H339.35M344.05 687.5H348.55M316.6 696.5H320.95M325.65 696.5H330.15M334.85 696.5H339.35M344.05 696.5H348.55M316.6 705.5H320.95M325.65 705.5H330.15M334.85 705.5H339.35M344.05 705.5H348.55M321.15 572.5H325.65M330.35 572.5H334.85M339.55 572.5H344.05M348.75 572.5H349.5M321.15 581.5H325.65M330.35 581.5H334.85M339.55 581.5H344.05M348.75 581.5H349.5M321.15 590.5H325.65M330.35 590.5H334.85M339.55 590.5H344.05M348.75 590.5H349.5M321.15 599.5H325.65M330.35 599.5H334.85M339.55 599.5H344.05M348.75 599.5H349.5M321.15 609.5H325.65M330.35 609.5H334.85M339.55 609.5H344.05M348.75 609.5H349.5M321.15 618.5H325.65M330.35 618.5H334.85M339.55 618.5H344.05M348.75 618.5H349.5M321.15 627.5H325.65M330.35 627.5H334.85M339.55 627.5H344.05M348.75 627.5H349.5M321.15 636.5H325.65M330.35 636.5H334.85M339.55 636.5H344.05M348.75 636.5H349.5M321.15 645.5H325.65M330.35 645.5H334.85M339.55 645.5H344.05M348.75 645.5H349.5M321.15 655.5H325.65M330.35 655.5H334.85M339.55 655.5H344.05M348.75 655.5H349.5M321.15 664.5H325.65M330.35 664.5H334.85M339.55 664.5H344.05M348.75 664.5H349.5M321.15 673.5H325.65M330.35 673.5H334.85M339.55 673.5H344.05M348.75 673.5H349.5M321.15 682.5H325.65M330.35 682.5H334.85M339.55 682.5H344.05M348.75 682.5H349.5M321.15 691.5H325.65M330.35 691.5H334.85M339.55 691.5H344.05M348.75 691.5H349.5M321.15 701.5H325.65M330.35 701.5H334.85M339.55 701.5H344.05M348.75 701.5H349.5" stroke="#000" stroke-width="1.15" fill="none"/><path d="M316.5 706.5V563.5H350.5V706.5" fill="none" stroke="#000" stroke-width="1"/><path d="M426.85 641.5H431.35M436.05 641.5H440.55M445.25 641.5H449.75M454.45 641.5H457.7M426.85 650.5H431.35M436.05 650.5H440.55M445.25 650.5H449.75M454.45 650.5H457.7M426.85 659.5H431.35M436.05 659.5H440.55M445.25 659.5H449.75M454.45 659.5H457.7M426.85 668.5H431.35M436.05 668.5H440.55M445.25 668.5H449.75M454.45 668.5H457.7M426.85 678.5H431.35M436.05 678.5H440.55M445.25 678.5H449.75M454.45 678.5H457.7M426.85 687.5H431.35M436.05 687.5H440.55M445.25 687.5H449.75M454.45 687.5H457.7M426.85 696.5H431.35M436.05 696.5H440.55M445.25 696.5H449.75M454.45 696.5H457.7M426.85 705.5H431.35M436.05 705.5H440.55M445.25 705.5H449.75M454.45 705.5H457.7M424.1 645.5H426.85M431.55 645.5H436.05M440.75 645.5H445.25M449.95 645.5H454.45M424.1 655.5H426.85M431.55 655.5H436.05M440.75 655.5H445.25M449.95 655.5H454.45M424.1 664.5H426.85M431.55 664.5H436.05M440.75 664.5H445.25M449.95 664.5H454.45M424.1 673.5H426.85M431.55 673.5H436.05M440.75 673.5H445.25M449.95 673.5H454.45M424.1 682.5H426.85M431.55 682.5H436.05M440.75 682.5H445.25M449.95 682.5H454.45M424.1 691.5H426.85M431.55 691.5H436.05M440.75 691.5H445.25M449.95 691.5H454.45M424.1 701.5H426.85M431.55 701.5H436.05M440.75 701.5H445.25M449.95 701.5H454.45" stroke="#000" stroke-width="1.15" fill="none"/><path d="M423.5 706.5V638.5H458.5V706.5" fill="none" stroke="#000" stroke-width="1"/><rect x="171.5" y="538.5" width="324" height="168" fill="none" stroke="#000" stroke-width="1"/><text x="159.6" y="711" text-anchor="end" font-size="14.2">0</text><line x1="171.5" y1="672.5" x2="175.5" y2="672.5" stroke="#000" stroke-width="1"/><text x="159.6" y="677.36" text-anchor="end" font-size="14.2">10</text><line x1="171.5" y1="638.5" x2="175.5" y2="638.5" stroke="#000" stroke-width="1"/><text x="159.6" y="643.72" text-anchor="end" font-size="14.2">20</text><line x1="171.5" y1="605.5" x2="175.5" y2="605.5" stroke="#000" stroke-width="1"/><text x="159.6" y="610.08" text-anchor="end" font-size="14.2">30</text><line x1="171.5" y1="571.5" x2="175.5" y2="571.5" stroke="#000" stroke-width="1"/><text x="159.6" y="576.44" text-anchor="end" font-size="14.2">40</text><text x="159.6" y="542.8" text-anchor="end" font-size="14.2">50</text><text x="506.6" y="711" text-anchor="start" font-size="14.2">0</text><line x1="491.5" y1="672.5" x2="495.5" y2="672.5" stroke="#000" stroke-width="1"/><text x="506.6" y="677.36" text-anchor="start" font-size="14.2">20</text><line x1="491.5" y1="638.5" x2="495.5" y2="638.5" stroke="#000" stroke-width="1"/><text x="506.6" y="643.72" text-anchor="start" font-size="14.2">40</text><line x1="491.5" y1="605.5" x2="495.5" y2="605.5" stroke="#000" stroke-width="1"/><text x="506.6" y="610.08" text-anchor="start" font-size="14.2">60</text><line x1="491.5" y1="571.5" x2="495.5" y2="571.5" stroke="#000" stroke-width="1"/><text x="506.6" y="576.44" text-anchor="start" font-size="14.2">80</text><text x="506.6" y="542.8" text-anchor="start" font-size="14.2">100</text><line x1="279.5" y1="702.5" x2="279.5" y2="706.5" stroke="#000" stroke-width="1"/><line x1="387.5" y1="702.5" x2="387.5" y2="706.5" stroke="#000" stroke-width="1"/><text x="223.82" y="727.3" text-anchor="middle" font-size="13.7">Normal</text><text x="333.25" y="727.3" text-anchor="middle" font-size="13.7">Pre-HTN</text><text x="441.48" y="727.3" text-anchor="middle" font-size="13.7">HTN</text><polyline points="225.62,581.9 333.45,609.99 441.28,571.81" fill="none" stroke="#222" stroke-width="1" stroke-dasharray="2.6 1.3"/><rect x="222.42" y="578.7" width="6.4" height="6.4" fill="#fff" stroke="#111" stroke-width="1.3"/><rect x="330.25" y="606.79" width="6.4" height="6.4" fill="#fff" stroke="#111" stroke-width="1.3"/><rect x="438.08" y="568.61" width="6.4" height="6.4" fill="#fff" stroke="#111" stroke-width="1.3"/><text x="343.2" y="741" text-anchor="middle" font-size="15.3" font-weight="bold">Children group</text><text transform="translate(144.5,623.4) rotate(-90)" text-anchor="middle" font-size="15.3" font-weight="bold">Consumption (Yes, %)</text><text transform="translate(544.2,631.2) rotate(-90)" text-anchor="middle" font-size="15.3" font-weight="bold">Consumption (No, %)</text><text x="486.9" y="551.5" text-anchor="middle" font-size="17.5" font-weight="bold">e</text><rect x="174.5" y="541.5" width="140.8" height="13.4" fill="#fff" stroke="#222" stroke-width="1"/><path d="M187.65 549.5H192.15M196.85 549.5H201.35M206.05 549.5H210.55M215.25 549.5H219.75" stroke="#000" stroke-width="1.15" fill="none"/><rect x="182.5" y="545.2" width="38.5" height="6.3" fill="none" stroke="#111" stroke-width="1"/><text x="225.6" y="553" font-size="13.7">Yes</text><text x="297.3" y="553" font-size="13.7">No</text><line x1="254.1" y1="548.2" x2="292.7" y2="548.2" stroke="#222" stroke-width="1" stroke-dasharray="2.6 1.3"/><rect x="269.6" y="545" width="6.4" height="6.4" fill="#fff" stroke="#111" stroke-width="1.3"/><text x="225.6" y="577.7" text-anchor="middle" font-size="13.5">A</text><text x="225.2" y="614.8" text-anchor="middle" font-size="13.5">b</text><text x="333" y="558.1" text-anchor="middle" font-size="13.5">a</text><text x="334.8" y="603.7" text-anchor="middle" font-size="13.5">B</text><text x="441.3" y="566.1" text-anchor="middle" font-size="13.5">A</text><text x="441" y="630.6" text-anchor="middle" font-size="13.5">b</text></g></svg></body></html>
